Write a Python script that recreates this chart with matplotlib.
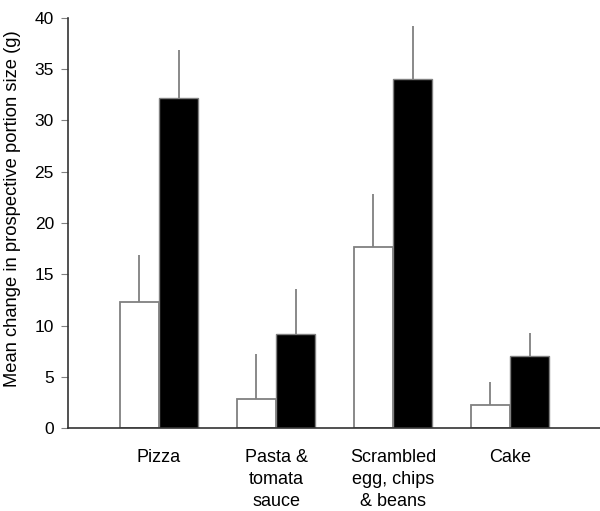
import numpy as np
import matplotlib.pyplot as plt

plt.rcParams['font.family'] = ['Liberation Sans', 'DejaVu Sans']

categories = ['Pizza', 'Pasta &\ntomata\nsauce', 'Scrambled\negg, chips\n& beans', 'Cake']
white_vals = [12.3, 2.8, 17.7, 2.2]
white_err = [4.6, 4.4, 5.1, 2.3]
black_vals = [32.2, 9.2, 34.0, 7.0]
black_err = [4.7, 4.4, 5.2, 2.3]

x = np.arange(len(categories))
w = 0.335
grey = '#808080'

fig = plt.figure(figsize=(6, 5.11), dpi=100)
ax = fig.add_axes([0.113, 0.1624, 0.887, 0.8024])

ax.bar(x - w / 2, white_vals, w, color='white', edgecolor=grey, linewidth=1.3,
       yerr=[np.zeros(len(x)), white_err], ecolor=grey,
       error_kw=dict(elinewidth=1.3, capsize=0), zorder=2)
ax.bar(x + w / 2, black_vals, w, color='black', edgecolor=grey, linewidth=1.0,
       yerr=[np.zeros(len(x)), black_err], ecolor=grey,
       error_kw=dict(elinewidth=1.3, capsize=0), zorder=2)

ax.set_xlim(-0.78, 3.77)
ax.set_ylim(0, 40)
ax.set_yticks(np.arange(0, 41, 5))
ax.set_xticks(x)
ax.set_xticklabels(categories, fontsize=13, linespacing=1.38, va='top')
ax.tick_params(axis='x', length=0, pad=15)
ax.tick_params(axis='y', length=5, color=grey, labelsize=12.5, pad=5)
ax.set_ylabel('Mean change in prospective portion size (g)', fontsize=13.2)
ax.yaxis.set_label_coords(-0.088, 0.534)

for s in ['top', 'right']:
    ax.spines[s].set_visible(False)
for s in ['left', 'bottom']:
    ax.spines[s].set_color('#333333')
    ax.spines[s].set_linewidth(1.2)

plt.savefig('out.png', dpi=100)
